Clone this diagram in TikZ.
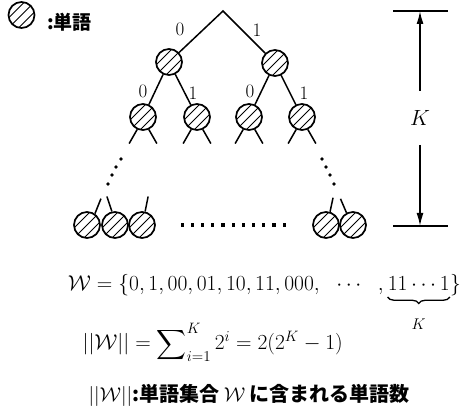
\RequirePackage{fix-cm}
\documentclass[tikz,border=0pt]{standalone}
\usepackage{exscale}
\usepackage{fontspec}
\newfontfamily\jp{Noto Sans CJK JP}
\usetikzlibrary{arrows.meta,calc,decorations.pathreplacing}
\tikzset{
  word/.style={circle, draw, line width=1.7pt, minimum size=26pt, inner sep=0pt,
    path picture={\foreach \d in {-5,0,5}
      \draw[line width=0.9pt] ([shift={(\d pt,-\d pt)}]path picture bounding box.center) ++(-20pt,-20pt) -- ++(40pt,40pt);}},
  edge/.style={line width=1.5pt},
  arr/.style={line width=1.5pt, -{Latex[length=13pt,width=7pt]}},
  lbl/.style={inner sep=0pt, font=\fontsize{19}{19}\selectfont},
  formula/.style={anchor=base east, inner sep=0pt, font=\fontsize{21.5}{24}\selectfont},
  ubrace/.style={line width=1.3pt, decorate, decoration={brace, mirror, amplitude=6.5pt}},
}
\begin{document}
\begin{tikzpicture}[x=1pt,y=-1pt]
\useasboundingbox (0,0) rectangle (464,414);
% legend
\node[word] (leg) at (21.5,15) {};
\node[anchor=west, inner sep=0pt, font=\jp\bfseries\fontsize{19}{19}\selectfont] (legt) at (47,22) {:単語};
% tree
\coordinate (root) at (223,11);
\node[word] (n0) at (169,62) {};
\node[word] (n1) at (275,63) {};
\node[word] (n00) at (143,117) {};
\node[word] (n01) at (197,117) {};
\node[word] (n10) at (249,117) {};
\node[word] (n11) at (302,117) {};
\draw[edge] (n0) -- (root) -- (n1);
\draw[edge] (n0) -- (n00);
\draw[edge] (n0) -- (n01);
\draw[edge] (n1) -- (n10);
\draw[edge] (n1) -- (n11);
\node[lbl] (l0) at (180,29) {0};
\node[lbl] (l1) at (257,30) {1};
\node[lbl] (l00) at (143,91) {0};
\node[lbl] (l01) at (193,93) {1};
\node[lbl] (l10) at (250,91) {0};
\node[lbl] (l11) at (304,93) {1};
\foreach \n in {n00,n01,n10,n11} {
  \draw[edge] (\n.245) -- ++(-8,14);
  \draw[edge] (\n.295) -- ++(8,14);
}
% vertical dots
\foreach \x/\y in {121/159,116/167,112/175,108/184, 322/159,326/167,330/175,334/184}
  \fill (\x,\y) circle (1.8pt);
% bottom row
\node[word] (b1) at (87,225) {};
\node[word] (b2) at (115,225) {};
\node[word] (b3) at (142,225) {};
\node[word] (b4) at (326,225) {};
\node[word] (b5) at (353,225) {};
\draw[edge] (b1.55) -- ++(6,-15);
\draw[edge] (b2.103) -- ++(-5,-15);
\draw[edge] (b3.77) -- ++(3,-15);
\draw[edge] (b4.73) -- ++(3,-14);
\draw[edge] (b5.118) -- ++(-6,-14);
\foreach \i in {0,...,10}
  \fill ({180.5+10.2*\i},223.5) rectangle ++(3.2,3.2);
% K dimension
\coordinate (kt1) at (393,11);
\coordinate (kt2) at (448,11);
\coordinate (kb1) at (393,226);
\coordinate (kb2) at (448,226);
\coordinate (ka) at (420,11);
\coordinate (kb) at (420,226);
\draw[edge] (kt1) -- (kt2);
\draw[edge] (kb1) -- (kb2);
\node[inner sep=0pt, font=\fontsize{22}{22}\selectfont] (K) at (420,118) {$K$};
\draw[arr] ($(K)+(0,-27)$) -- (ka);
\draw[arr] ($(K)+(0,27)$) -- (kb);
% formulas
\node[formula] (f1c) at (461,291) {$\}$};
\node[formula] (f1b) at (f1c.base west) {$11\cdots1$};
\node[formula] (f1a) at (f1b.base west) {$\mathcal{W}=\{0,1,00,01,10,11,000,\ \ \cdots\ \ ,\,$};
\draw[ubrace] ($(f1b.base west)+(0,6)$) -- ($(f1b.base east)+(0,6)$);
\node[inner sep=0pt, font=\fontsize{15.5}{16}\selectfont] (bk) at ($(f1b.base)+(0,33)$) {$K$};
\node[formula] (f2) at (343,350) {$||\mathcal{W}|| = \displaystyle\sum\nolimits_{i=1}^{K} 2^i = 2(2^K-1)$};
\node[formula, font=\jp\bfseries\fontsize{20}{20}\selectfont] (f3) at (410,402) {$||\mathcal{W}||$:単語集合 $\mathcal{W}$ に含まれる単語数};
\end{tikzpicture}
\end{document}
